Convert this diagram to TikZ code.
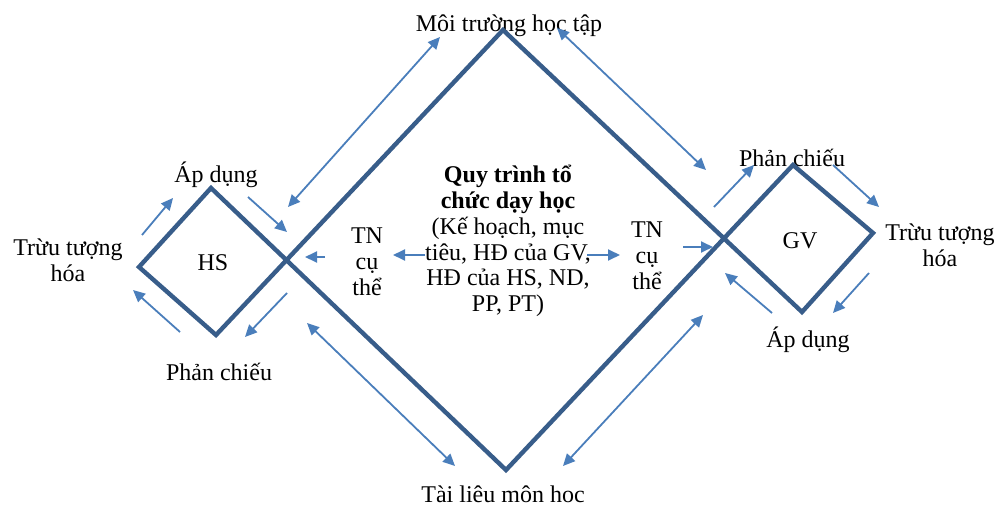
\documentclass[tikz,border=0pt]{standalone}
\usepackage{fontspec}
\setmainfont{Liberation Serif}
\usetikzlibrary{arrows.meta}
\definecolor{frame}{HTML}{385D8A}
\definecolor{flow}{HTML}{4A7EBB}
% centred stack of lines; the box baseline is that of the first line
\newcommand\stackc[1]{\vtop{\lineskiplimit=-100pt\baselineskip=26pt\halign{\hfil##\hfil\cr#1\crcr}}}

\begin{document}
\begin{tikzpicture}[x=1pt,y=-1pt,
  lbl/.style={anchor=base,inner sep=0pt,font=\fontsize{24}{26}\selectfont},
  outline/.style={draw=frame,line width=4.4pt,line join=miter},
  flowarrow/.style={draw=flow,line width=1.8pt,-{Triangle[length=12pt,width=11pt]}},
  flowboth/.style={draw=flow,line width=1.8pt,{Triangle[length=12pt,width=11pt]}-{Triangle[length=12pt,width=11pt]}}]
\useasboundingbox (0,0) rectangle (1001,508);

% corners of the three linked squares
\coordinate (hsL) at (139,267);
\coordinate (hsT) at (211,188);
\coordinate (hsB) at (216,335);
\coordinate (bigT) at (503,30);
\coordinate (bigB) at (506,470);
\coordinate (gvT) at (793,165);
\coordinate (gvR) at (873,233);
\coordinate (gvB) at (802,312);

% labels
\node[lbl] (env) at (509,32) {Môi trường học tập};
\node[lbl] (mat) at (503,502) {Tài liêu môn hoc};
\node[lbl] (hsApply) at (216,182) {Áp dụng};
\node[lbl] (hsAbs) at (68,255) {\stackc{Trừu tượng\cr hóa}};
\node[lbl] (hs) at (213,270) {HS};
\node[lbl] (hsRefl) at (219,380) {Phản chiếu};
\node[lbl] (gvRefl) at (792,166) {Phản chiếu};
\node[lbl] (gvAbs) at (940,240) {\stackc{Trừu tượng\cr hóa}};
\node[lbl] (gv) at (800,248) {GV};
\node[lbl] (gvApply) at (808,347) {Áp dụng};
\node[lbl] (proc) at (508,182) {\stackc{\bfseries Quy trình tổ\cr
  \bfseries chức dạy học\cr (Kế hoạch, mục\cr tiêu, HĐ của GV,\cr
  HĐ của HS, ND,\cr PP, PT)}};
\node[lbl] (tnL) at (367,243) {\stackc{TN\cr cụ\cr thể}};
\node[lbl] (tnR) at (647,237) {\stackc{TN\cr cụ\cr thể}};

% the outline: HS square, process square and GV square joined at crossings
\draw[outline] (hsL) -- (hsT) -- (bigB) -- (gvT) -- (gvR) -- (gvB)
  -- (bigT) -- (hsB) -- cycle;

% arrow end points
\coordinate (a1s) at (142,235);  \coordinate (a1e) at (173,198);
\coordinate (a2s) at (248,197);  \coordinate (a2e) at (287,232);
\coordinate (a3s) at (325,257);  \coordinate (a3e) at (305,257);
\coordinate (a4s) at (287,293);  \coordinate (a4e) at (245,337);
\coordinate (a5s) at (180,332);  \coordinate (a5e) at (133,290);
\coordinate (a6s) at (425,255);  \coordinate (a6e) at (393,255);
\coordinate (a7s) at (587,255);  \coordinate (a7e) at (620,255);
\coordinate (a8s) at (683,247);  \coordinate (a8e) at (713,247);
\coordinate (a9s) at (714,207);  \coordinate (a9e) at (754,165);
\coordinate (a10s) at (833,165); \coordinate (a10e) at (879,207);
\coordinate (a11s) at (869,273); \coordinate (a11e) at (833,313);
\coordinate (a12s) at (772,313); \coordinate (a12e) at (725,273);
\coordinate (d1s) at (440,37);   \coordinate (d1e) at (288,207);
\coordinate (d2s) at (307,323);  \coordinate (d2e) at (455,466);
\coordinate (d3s) at (557,28);   \coordinate (d3e) at (706,170);
\coordinate (d4s) at (703,315);  \coordinate (d4e) at (563,466);

% one-way arrows
\foreach \k in {1,...,12}
  \draw[flowarrow] (a\k s) -- (a\k e);
% two-way arrows
\foreach \k in {1,...,4}
  \draw[flowboth] (d\k s) -- (d\k e);
\end{tikzpicture}
\end{document}
